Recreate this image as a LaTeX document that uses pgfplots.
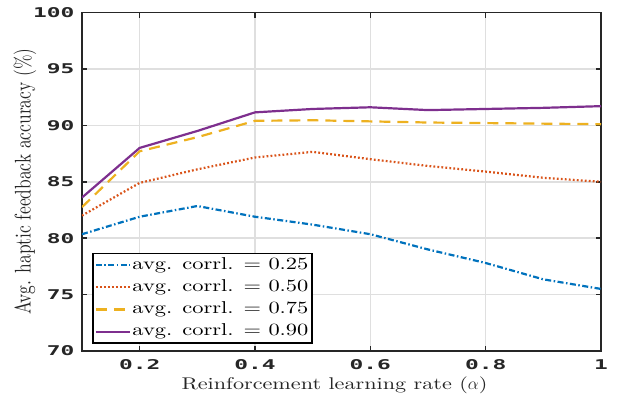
\documentclass[border=0pt]{standalone}
\usepackage{graphicx}
\usepackage{pgfplots}
\pgfplotsset{compat=1.18}
\usepackage{fontspec}
\setmainfont{lmroman10-regular.otf}[FakeStretch=1.31]
\newfontfamily\plainlm{lmroman10-regular.otf}
\newfontfamily\tickfont{DejaVu Sans Mono}[FakeStretch=1.7]
\definecolor{mblue}{rgb}{0,0.447,0.741}
\definecolor{mred}{rgb}{0.85,0.325,0.098}
\definecolor{myellow}{rgb}{0.929,0.694,0.125}
\definecolor{mpurple}{rgb}{0.494,0.184,0.556}
\definecolor{gridgray}{gray}{0.875}
\definecolor{axgray}{gray}{0.15}
\begin{document}
\begin{tikzpicture}
\useasboundingbox (-82bp,-45bp) rectangle (536bp,351bp);
\begin{axis}[
  at={(0,0)}, anchor=south west,
  scale only axis, width=519bp, height=338.5bp,
  xmin=0.1, xmax=1, ymin=70, ymax=100,
  xtick={0.2,0.4,0.6,0.8,1}, xticklabels={0.2,0.4,0.6,0.8,1},
  ytick={70,75,80,85,90,95,100}, yticklabels={70,75,80,85,90,95,100},
  grid=major, major grid style={color=gridgray, line width=1.6bp},
  axis line style={color=axgray, line width=1.5bp},
  tick style={color=axgray, line width=1.5bp},
  tick align=inside, major tick length=5bp,
  tick label style={font=\tickfont\bfseries\fontsize{13.5}{14}\selectfont, text=axgray},
  /pgf/number format/assume math mode=true,
  yticklabel style={xshift=-4bp},
  xticklabel style={yshift=-5bp},
  xlabel={Reinforcement learning rate ($\alpha$)},
  ylabel={\scalebox{1}[1.3]{\plainlm\fontsize{17.5}{20}\selectfont Avg. haptic feedback accuracy (\%)}},
  label style={font=\fontsize{17}{20}\selectfont, text=black!85},
  xlabel style={at={(axis description cs:0.4865,-0.102)}, anchor=center},
  ylabel style={at={(axis description cs:-0.1098,0.5)}, anchor=center},
  legend style={at={(axis description cs:0.0193,0.0207)}, anchor=south west,
    draw=black, line width=1.5bp, fill=white,
    font=\fontsize{17.2}{20}\selectfont, inner xsep=2bp, inner ysep=1.5bp,
    row sep=2.2bp,
    nodes={inner sep=1.5bp, text height=12.5bp, text depth=4.5bp}},
  legend cell align=left,
  legend image code/.code={\draw[#1] (0bp,0bp) -- (34bp,0bp);},
]
\addplot[color=mblue, line width=2.2bp, dash pattern=on 6bp off 2.5bp on 1.5bp off 2.5bp] coordinates {
(0.1,80.35)(0.2,81.9)(0.3,82.85)(0.4,81.9)(0.5,81.2)(0.6,80.35)(0.7,79.0)(0.8,77.8)(0.9,76.35)(1,75.5)};
\addlegendentry{avg. corrl. = 0.25}
\addplot[color=mred, line width=2.2bp, dash pattern=on 1.8bp off 2.2bp] coordinates {
(0.1,82.0)(0.2,84.9)(0.3,86.1)(0.4,87.15)(0.5,87.65)(0.6,87.0)(0.7,86.4)(0.8,85.9)(0.9,85.35)(1,85.0)};
\addlegendentry{avg. corrl. = 0.50}
\addplot[color=myellow, line width=2.2bp, dash pattern=on 11bp off 7bp] coordinates {
(0.1,82.75)(0.2,87.7)(0.3,88.95)(0.4,90.4)(0.5,90.45)(0.6,90.35)(0.7,90.25)(0.8,90.2)(0.9,90.15)(1,90.1)};
\addlegendentry{avg. corrl. = 0.75}
\addplot[color=mpurple, line width=2.2bp] coordinates {
(0.1,83.6)(0.2,88.0)(0.3,89.5)(0.4,91.15)(0.5,91.45)(0.6,91.6)(0.7,91.35)(0.8,91.45)(0.9,91.55)(1,91.7)};
\addlegendentry{avg. corrl. = 0.90}
\end{axis}
\end{tikzpicture}
\end{document}
